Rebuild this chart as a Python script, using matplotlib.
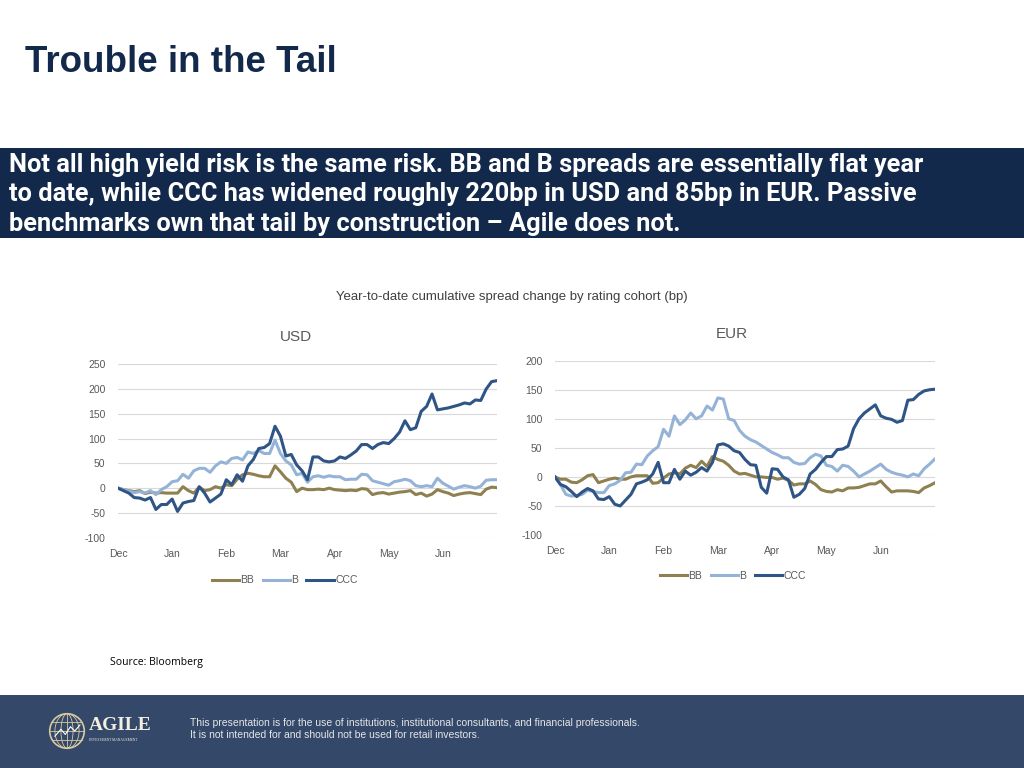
import numpy as np
import matplotlib
matplotlib.use("Agg")
import matplotlib.pyplot as plt
from matplotlib import font_manager
from matplotlib.patches import Rectangle, Circle, Ellipse

# month ticks (first point sits on Dec, last point on end of June)
months = ["Dec", "Jan", "Feb", "Mar", "Apr", "May", "Jun"]

# USD cumulative spread change (bp) at even steps
usd_bb = [0, -3, -5, -7, -5, -11, -8, -10, -9, -10, -10, -10, 3, -5, -10, 2, -5, -3, 3, 0,
          7, 5, 18, 27, 30, 28, 25, 23, 23, 45, 33, 20, 12, -7, 0, -3, -3, -2, -3, 0,
          -3, -4, -5, -4, -5, -1, -2, -13, -10, -9, -12, -10, -8, -7, -5, -13, -10, -16, -12, -3,
          -7, -10, -15, -12, -10, -9, -11, -13, -2, 2, 1]
usd_b = [0, -3, -6, -9, -7, -10, -5, -13, -3, 3, 13, 15, 28, 20, 35, 40, 40, 32, 45, 53,
         50, 60, 62, 57, 73, 70, 76, 70, 70, 97, 70, 55, 47, 27, 30, 12, 23, 25, 22, 25,
         23, 23, 17, 18, 18, 28, 27, 15, 12, 9, 6, 13, 15, 18, 15, 5, 3, 5, 3, 20,
         10, 4, -2, 2, 5, 3, 0, 4, 16, 17, 17]
usd_ccc = [0, -5, -10, -19, -20, -24, -19, -43, -33, -33, -22, -47, -30, -27, -25, 3, -10, -28, -20, -12,
           17, 7, 27, 14, 45, 58, 80, 82, 90, 125, 105, 65, 68, 47, 35, 17, 63, 63, 55, 53,
           55, 63, 60, 67, 75, 88, 88, 80, 88, 92, 90, 100, 113, 136, 118, 122, 155, 165, 190, 158,
           160, 162, 165, 168, 172, 170, 178, 177, 200, 215, 217]

# EUR cumulative spread change (bp)
eur_bb = [0, -4, -4, -9, -10, -5, 2, 4, -10, -7, -4, -2, -4, -4, 0, 2, 2, 2, -11, -10,
          -2, 5, 7, 5, 15, 20, 16, 27, 18, 35, 30, 27, 20, 10, 5, 6, 3, 0, 0, -1,
          -1, -4, -2, -6, -14, -12, -12, -7, -13, -22, -25, -26, -22, -24, -19, -19, -18, -15, -12, -12,
          -7, -17, -26, -24, -24, -24, -25, -27, -19, -15, -10]
eur_b = [0, -13, -30, -33, -32, -30, -23, -25, -27, -27, -15, -12, -6, 7, 8, 22, 21, 36, 45, 52,
         82, 70, 105, 90, 98, 110, 100, 105, 122, 115, 136, 134, 100, 97, 80, 70, 64, 60, 54, 48,
         42, 38, 33, 33, 25, 22, 23, 33, 39, 36, 20, 18, 10, 20, 18, 10, 0, 5, 10, 16,
         22, 13, 8, 5, 3, 0, 5, 2, 14, 22, 31]
eur_ccc = [0, -13, -17, -25, -34, -26, -20, -24, -38, -39, -34, -47, -50, -40, -30, -12, -9, -5, 5, 25,
           -10, -10, 13, -4, 10, 3, 8, 16, 10, 25, 55, 57, 53, 45, 42, 30, 21, 20, -18, -28,
           14, 13, 0, -5, -35, -30, -20, 5, 13, 25, 35, 35, 47, 48, 53, 83, 100, 110, 117, 124,
           105, 101, 99, 94, 97, 132, 133, 142, 148, 150, 151]

NAVY = "#13294B"
FOOT = "#34486A"
GREY = "#595959"
colors = {"BB": "#8E8050", "B": "#95B3D7", "CCC": "#2F5486"}

plt.rcParams["font.family"] = ["Liberation Sans", "DejaVu Sans"]
plt.rcParams["axes.unicode_minus"] = False

fig = plt.figure(figsize=(10.24, 7.68), dpi=100)
renderer = fig.canvas.get_renderer()


def fx(px):
    return px / 1024


def fy(py):
    return 1 - py / 768


# slide furniture
fig.text(fx(25), fy(62), "Trouble in the Tail", fontsize=26.5, fontweight="bold", color=NAVY,
         va="center", ha="left")
fig.add_artist(Rectangle((0, fy(238)), 1, fy(148) - fy(238), transform=fig.transFigure,
                         facecolor=NAVY, edgecolor="none", zorder=0))

# the slide uses a narrow bold face for the banner; use one if it is around
installed = {f.name for f in font_manager.fontManager.ttflist}
banner_font = "Roboto"
for name in ["Liberation Sans Narrow", "DejaVu Sans Condensed"]:
    if name in installed:
        banner_font = name
        break

banner = ["Not all high yield risk is the same risk. BB and B spreads are essentially flat year",
          "to date, while CCC has widened roughly 220bp in USD and 85bp in EUR. Passive",
          "benchmarks own that tail by construction \u2013 Agile does not."]
lines = []
for i, line in enumerate(banner):
    t = fig.text(fx(9), fy(165 + 29.5 * i), line, fontsize=16, fontweight="bold", color="white",
                 family=[banner_font, "DejaVu Sans"], va="center", ha="left")
    lines.append(t)
w = lines[0].get_window_extent(renderer).width
size = min(16 * 989 / w, 18.3)
for t in lines:
    t.set_fontsize(size)

fig.text(0.5, fy(297), "Year-to-date cumulative spread change by rating cohort (bp)",
         fontsize=9.5, color="#404040", ha="center", va="center")

fig.text(fx(110), fy(663), "Source: Bloomberg", fontsize=7.5, color="black", va="center",
         family=["Open Sans", "DejaVu Sans"])

fig.add_artist(Rectangle((0, 0), 1, fy(695), transform=fig.transFigure,
                         facecolor=FOOT, edgecolor="none", zorder=0))
fig.text(fx(190), fy(723), "This presentation is for the use of institutions, institutional consultants, and financial professionals.",
         fontsize=7.5, color="#E6E6E6", va="center")
fig.text(fx(190), fy(735), "It is not intended for and should not be used for retail investors.",
         fontsize=7.5, color="#E6E6E6", va="center")

# little logo: globe + wordmark
gold = "#D9C9A0"
logo = fig.add_axes([fx(45), fy(750), fx(44), fy(712) - fy(750)])
logo.set_xlim(-1.1, 1.1)
logo.set_ylim(-1.1, 1.1)
logo.set_aspect("equal")
logo.axis("off")
logo.add_patch(Circle((0, 0), 1, fill=False, edgecolor=gold, lw=1.2))
for w in [0.35, 0.7]:
    logo.add_patch(Ellipse((0, 0), 2 * w, 2, fill=False, edgecolor=gold, lw=0.6))
logo.plot([0, 0], [-1, 1], color=gold, lw=0.6)
for h in [-0.5, 0, 0.5]:
    hw = np.sqrt(1 - h ** 2)
    logo.plot([-hw, hw], [h, h], color=gold, lw=0.6)
logo.plot([-0.7, -0.35, -0.1, 0.2, 0.45, 0.75], [-0.3, 0.1, -0.2, 0.25, 0.0, 0.35], color="white", lw=0.8)
fig.text(fx(89), fy(726), "AGILE", fontsize=14, fontweight="bold", color="#F2EEE0",
         family=["Liberation Serif", "DejaVu Serif"], va="center")
fig.text(fx(89), fy(740), "INVESTMENT MANAGEMENT", fontsize=2.6, color="#F2EEE0",
         family=["Liberation Serif", "DejaVu Serif"], va="center")


def panel(rect, title, bb, b, ccc, ylim, leg_xy, title_x, title_pad):
    ax = fig.add_axes(rect)
    x = np.linspace(0, 7, len(bb))
    ax.plot(x, bb, color=colors["BB"], lw=2.2, label="BB", zorder=3)
    ax.plot(x, b, color=colors["B"], lw=2.2, label="B", zorder=3)
    ax.plot(x, ccc, color=colors["CCC"], lw=2.2, label="CCC", zorder=4)
    ax.set_xlim(0, 7)
    ax.set_ylim(*ylim)
    ax.set_yticks(np.arange(ylim[0], ylim[1] + 1, 50))
    ax.set_xticks(range(len(months)))
    ax.set_xticklabels(months)
    ax.grid(axis="y", color="#D9D9D9", lw=0.8, zorder=0)
    ax.set_axisbelow(True)
    for s in ax.spines.values():
        s.set_visible(False)
    ax.tick_params(length=0, labelsize=7.5, labelcolor=GREY)
    ax.tick_params(axis="y", pad=9)
    ax.tick_params(axis="x", pad=8)
    ax.set_title(title, fontsize=11, color=GREY, pad=title_pad, x=title_x)
    ax.legend(loc="center", bbox_to_anchor=leg_xy, ncol=3, frameon=False, fontsize=7.5,
              handlelength=2.6, columnspacing=0.8, handletextpad=0.15, labelcolor=GREY)
    return ax


usd = panel([fx(118), fy(537.7), fx(379), fy(364.3) - fy(537.7)], "USD",
            usd_bb, usd_b, usd_ccc, (-100, 250), (0.44, -0.245), 0.47, 17)

eur = panel([fx(555), fy(535), fx(380), fy(360.7) - fy(535)], "EUR",
            eur_bb, eur_b, eur_ccc, (-100, 200), (0.468, -0.235), 0.465, 16)

fig.savefig("out.png", dpi=100)
